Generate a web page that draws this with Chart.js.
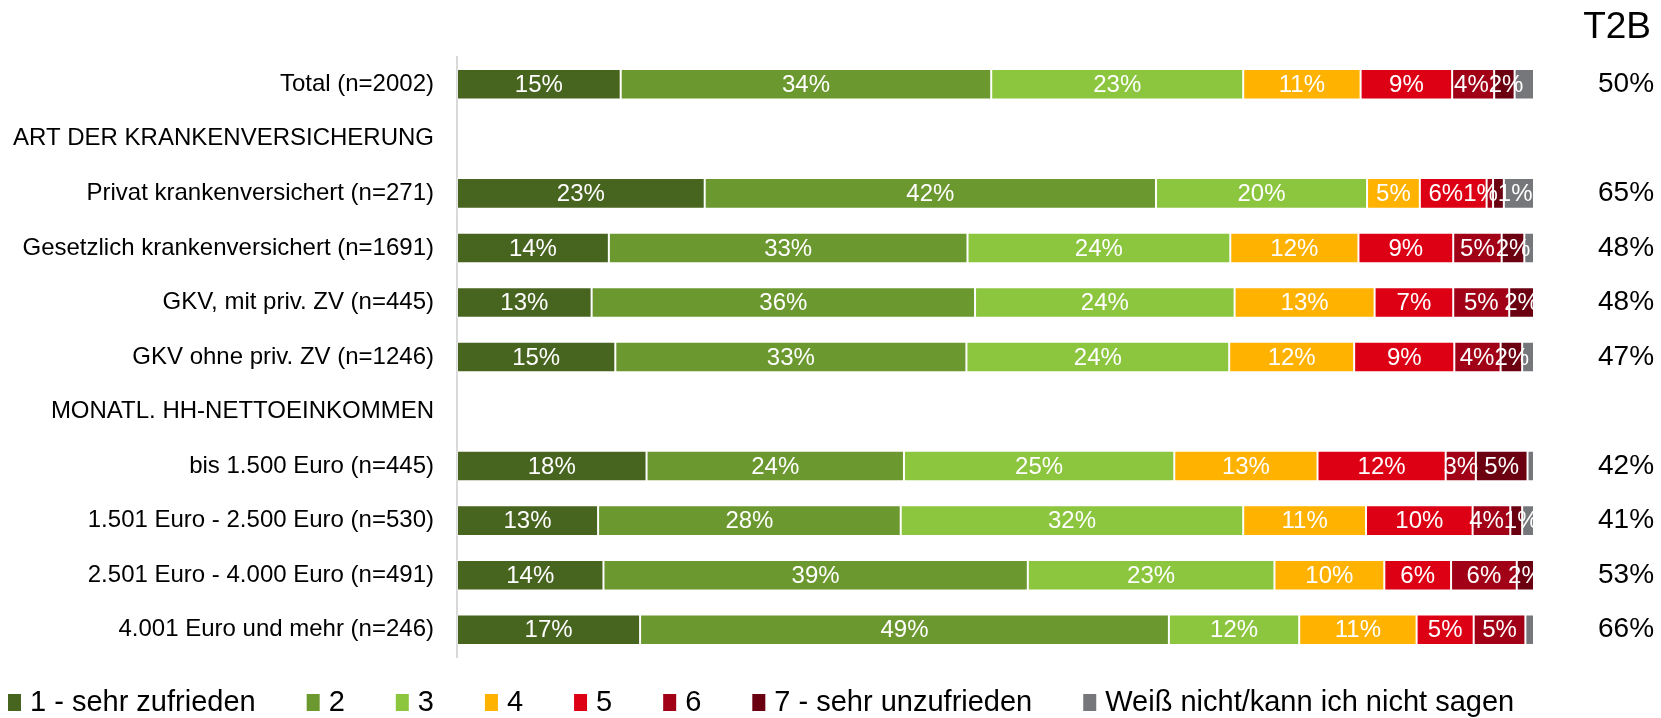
<!DOCTYPE html>
<html>
<head>
<meta charset="utf-8">
<title>Zufriedenheit</title>
<script src="https://cdn.jsdelivr.net/npm/chart.js"></script>
<style>
  html, body { margin: 0; padding: 0; background: #fff; }
  #wrap { width: 1661px; height: 718px; position: relative; }
</style>
</head>
<body>
<div id="wrap"><canvas id="satisfactionChart"></canvas></div>
<script>
const FONT = '"Liberation Sans", Arial, sans-serif';

// rows (headings have no bar)
const categories = [
  "Total (n=2002)",
  "ART DER KRANKENVERSICHERUNG",
  "Privat krankenversichert (n=271)",
  "Gesetzlich krankenversichert (n=1691)",
  "GKV, mit priv. ZV (n=445)",
  "GKV ohne priv. ZV (n=1246)",
  "MONATL. HH-NETTOEINKOMMEN",
  "bis 1.500 Euro (n=445)",
  "1.501 Euro - 2.500 Euro (n=530)",
  "2.501 Euro - 4.000 Euro (n=491)",
  "4.001 Euro und mehr (n=246)",
];

const t2bTitle = "T2B";
const t2bLabels = ["50%", "", "65%", "48%", "48%", "47%", "", "42%", "41%", "53%", "66%"];

const seriesNames = [
  "1 - sehr zufrieden", "2", "3", "4", "5", "6",
  "7 - sehr unzufrieden", "Weiß nicht/kann ich nicht sagen",
];

// values in %
const s1 = [15.2, null, 23.0, 14.1, 12.5, 14.7, null, 17.6, 13.1, 13.6, 17.0];
const s2 = [34.4, null, 41.9, 33.3, 35.6, 32.6, null, 23.9, 28.1, 39.4, 49.1];
const s3 = [23.4, null, 19.6, 24.4, 24.1, 24.4, null, 25.1, 31.8, 22.9, 12.1];
const s4 = [10.9, null, 4.9, 11.9, 13.0, 11.6, null, 13.3, 11.4, 10.2, 10.9];
const s5 = [8.5, null, 6.2, 8.8, 7.3, 9.3, null, 11.9, 9.9, 6.2, 5.3];
const s6 = [3.9, null, 0.6, 4.5, 5.2, 4.3, null, 2.8, 3.5, 6.1, 4.8];
const s7 = [1.9, null, 1.0, 2.1, 2.3, 2.0, null, 4.8, 1.1, 1.6, 0];
const s8 = [1.8, null, 2.8, 0.9, 0, 1.1, null, 0.6, 1.1, 0, 0.8];

const seriesColors = ["#486520", "#6b982f", "#8cc63f", "#ffb200", "#dd0015", "#a10016", "#6b0010", "#76777a"];

const seriesData = [s1, s2, s3, s4, s5, s6, s7, s8];

const datasets = seriesData.map((d, i) => ({
  label: seriesNames[i],
  data: d,
  backgroundColor: seriesColors[i],
  borderColor: "rgba(255,255,255,0.35)",
  borderWidth: 1,
  borderSkipped: false,
  noLabel: i === 7,
}));

// white % labels on the segments, spread apart where they collide
const barLabels = {
  id: "barLabels",
  afterDatasetsDraw(chart) {
    const ctx = chart.ctx;
    const area = chart.chartArea;
    ctx.save();
    ctx.beginPath();
    ctx.rect(area.left, area.top, area.right - area.left, area.bottom - area.top);
    ctx.clip();
    ctx.font = "24px " + FONT;
    ctx.fillStyle = "#fff";
    ctx.textAlign = "center";
    ctx.textBaseline = "middle";
    categories.forEach((c, i) => {
      const items = [];
      chart.data.datasets.forEach((ds, d) => {
        if (ds.noLabel) return;
        const v = ds.data[i];
        if (v == null || Math.round(v) < 1) return;
        const bar = chart.getDatasetMeta(d).data[i];
        const text = Math.round(v) + "%";
        items.push({ text, w: ctx.measureText(text).width, x: (bar.base + bar.x) / 2, y: bar.y });
      });
      for (let pass = 0; pass < 40; pass++) {
        for (let k = 0; k < items.length - 1; k++) {
          const a = items[k], b = items[k + 1];
          const over = (a.x + a.w / 2) - (b.x - b.w / 2);
          if (over > 0) { a.x -= over / 2; b.x += over / 2; }
        }
      }
      items.forEach((it) => ctx.fillText(it.text, it.x, it.y + 1));
    });
    ctx.restore();
  },
};

// "T2B" header and a single legend row along the bottom
const extras = {
  id: "extras",
  afterDraw(chart) {
    const ctx = chart.ctx;
    ctx.save();
    ctx.fillStyle = "#000";
    ctx.font = "37px " + FONT;
    ctx.textAlign = "right";
    ctx.textBaseline = "middle";
    ctx.fillText(t2bTitle, 1651, 28);

    ctx.font = "29px " + FONT;
    ctx.textAlign = "left";
    let x = 8;
    const y = 702;
    chart.data.datasets.forEach((ds) => {
      ctx.fillStyle = ds.backgroundColor;
      ctx.fillRect(x, y - 8, 13, 17);
      ctx.fillStyle = "#000";
      ctx.fillText(ds.label, x + 22, y + 1);
      x += 22 + ctx.measureText(ds.label).width + 51;
    });
    ctx.restore();
  },
};

const ctx = document.getElementById("satisfactionChart").getContext("2d");

new Chart(ctx, {
  type: "bar",
  data: { labels: categories, datasets },
  plugins: [barLabels, extras],
  options: {
    indexAxis: "y",
    responsive: true,
    maintainAspectRatio: false,
    animation: false,
    layout: { padding: { top: 57, right: 0, bottom: 61, left: 0 } },
    categoryPercentage: 1,
    barPercentage: 0.56,
    plugins: {
      legend: { display: false },
      tooltip: { enabled: false },
    },
    scales: {
      x: { stacked: true, min: 0, max: 100, display: false },
      y: {
        stacked: true,
        grid: { display: false, drawTicks: false },
        border: { display: true, color: "#d9d9d9", width: 2 },
        ticks: {
          autoSkip: false,
          color: "#000",
          padding: 23,
          font: { family: FONT, size: 24 },
        },
        afterFit(scale) {
          scale.width = 457;
          scale.paddingTop = 0;
          scale.paddingBottom = 0;
        },
      },
      t2b: {
        type: "category",
        position: "right",
        labels: t2bLabels,
        offset: true,
        grid: { display: false, drawTicks: false },
        border: { display: false },
        ticks: {
          autoSkip: false,
          color: "#000",
          padding: 64,
          font: { family: FONT, size: 28 },
        },
        afterFit(scale) {
          scale.width = 127;
          scale.paddingTop = 0;
          scale.paddingBottom = 0;
        },
      },
    },
  },
});
</script>
</body>
</html>
